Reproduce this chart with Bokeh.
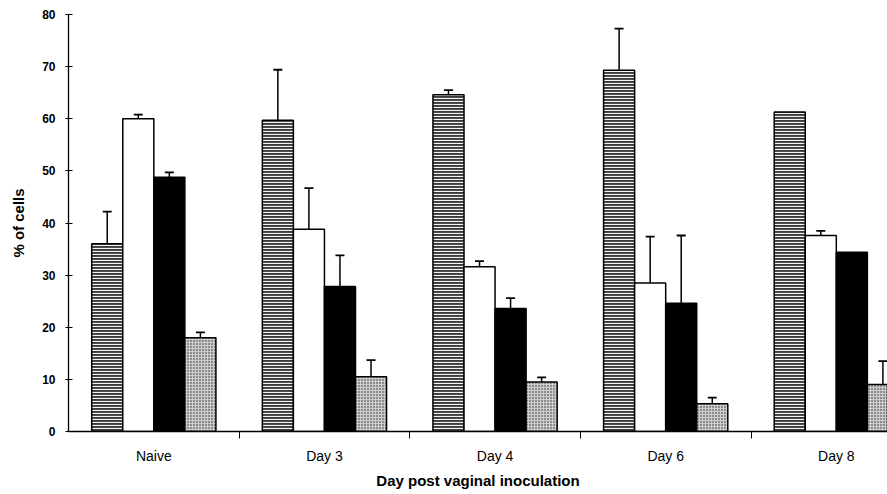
from bokeh.plotting import figure
from bokeh.models import Range1d, FixedTicker, CustomJSTickFormatter, ColumnDataSource, Whisker, TeeHead
from bokeh.embed import file_html
from bokeh.resources import INLINE

# ---- data ----
categories = ["Naive", "Day 3", "Day 4", "Day 6", "Day 8"]
hatched_vals = [36.0, 59.7, 64.6, 69.3, 61.3]
hatched_err = [6.2, 9.7, 0.9, 8.0, 0.0]
white_vals = [60.0, 38.8, 31.6, 28.5, 37.6]
white_err = [0.8, 7.9, 1.1, 8.9, 0.9]
black_vals = [48.8, 27.8, 23.6, 24.6, 34.4]
black_err = [0.9, 6.0, 2.0, 13.0, 0.0]
dotted_vals = [18.0, 10.5, 9.5, 5.3, 9.0]
dotted_err = [1.0, 3.2, 0.9, 1.2, 4.5]
y_ticks = [0, 10, 20, 30, 40, 50, 60, 70, 80]

series = [
    (hatched_vals, hatched_err),
    (white_vals, white_err),
    (black_vals, black_err),
    (dotted_vals, dotted_err),
]
styles = [
    dict(fill_color="#3c3c3c", hatch_pattern="horizontal_line", hatch_color="#f4f4f4",
         hatch_scale=3, hatch_weight=1.2),
    dict(fill_color="white"),
    dict(fill_color="black"),
    dict(fill_color="#cdcdcd", hatch_pattern="dot", hatch_color="#2a2a2a", hatch_scale=3,
         hatch_weight=1),
]

bar_w = 0.182
offsets = [-1.5 * bar_w, -0.5 * bar_w, 0.5 * bar_w, 1.5 * bar_w]

p = figure(width=887, height=494, output_backend="svg", toolbar_location=None,
           x_range=Range1d(0, 4.80), y_range=Range1d(0, 80),
           min_border_left=68, min_border_right=0, min_border_top=14, min_border_bottom=63)
p.outline_line_color = None
p.xgrid.grid_line_color = None
p.ygrid.grid_line_color = None
p.background_fill_color = "white"
p.border_fill_color = "white"

for (vals, errs), st, off in zip(series, styles, offsets):
    xs = [i + 0.5 + off for i in range(len(categories))]
    src = ColumnDataSource(dict(x=xs, top=vals))
    p.vbar(x="x", top="top", bottom=0, width=bar_w, source=src,
           line_color="black", line_width=1.5, **st)
    ex = [x for x, e in zip(xs, errs) if e > 0]
    lo = [v for v, e in zip(vals, errs) if e > 0]
    up = [v + e for v, e in zip(vals, errs) if e > 0]
    esrc = ColumnDataSource(dict(base=ex, lower=lo, upper=up))
    w = Whisker(base="base", lower="lower", upper="upper", source=esrc,
                dimension="height", line_color="black", line_width=1.5,
                upper_head=TeeHead(size=9, line_color="black", line_width=1.8),
                lower_head=None)
    p.add_layout(w)

# x axis
xa = p.xaxis[0]
xa.ticker = FixedTicker(ticks=[i + 0.5 for i in range(len(categories))],
                        minor_ticks=[i for i in range(1, len(categories))])
xa.formatter = CustomJSTickFormatter(args=dict(labels=categories),
                                     code="const i = Math.floor(tick); return labels[i] ?? '';")
xa.major_tick_line_color = None
xa.major_tick_in = 0
xa.major_tick_out = 0
xa.minor_tick_line_color = "black"
xa.minor_tick_in = 0
xa.minor_tick_out = 7
xa.axis_line_color = "black"
xa.axis_line_width = 1.3
xa.major_label_text_font = "Liberation Sans"
xa.major_label_text_font_size = "14px"
xa.major_label_text_color = "black"
xa.major_label_standoff = 9
xa.axis_label = "Day post vaginal inoculation"
xa.axis_label_text_font = "Liberation Sans"
xa.axis_label_text_font_size = "15px"
xa.axis_label_text_font_style = "bold"
xa.axis_label_text_color = "black"
xa.axis_label_standoff = 5

# y axis
ya = p.yaxis[0]
ya.ticker = FixedTicker(ticks=y_ticks)
ya.major_tick_in = 4
ya.major_tick_out = 3
ya.major_tick_line_color = "black"
ya.minor_tick_line_color = None
ya.axis_line_color = "black"
ya.axis_line_width = 1.3
ya.major_label_text_font = "Liberation Sans"
ya.major_label_text_font_size = "12px"
ya.major_label_text_font_style = "bold"
ya.major_label_text_color = "black"
ya.major_label_standoff = 10
ya.axis_label = "% of cells"
ya.axis_label_text_font = "Liberation Sans"
ya.axis_label_text_font_size = "15px"
ya.axis_label_text_font_style = "bold"
ya.axis_label_text_color = "black"
ya.axis_label_standoff = 12

open("out.html", "w").write(file_html(p, INLINE))
